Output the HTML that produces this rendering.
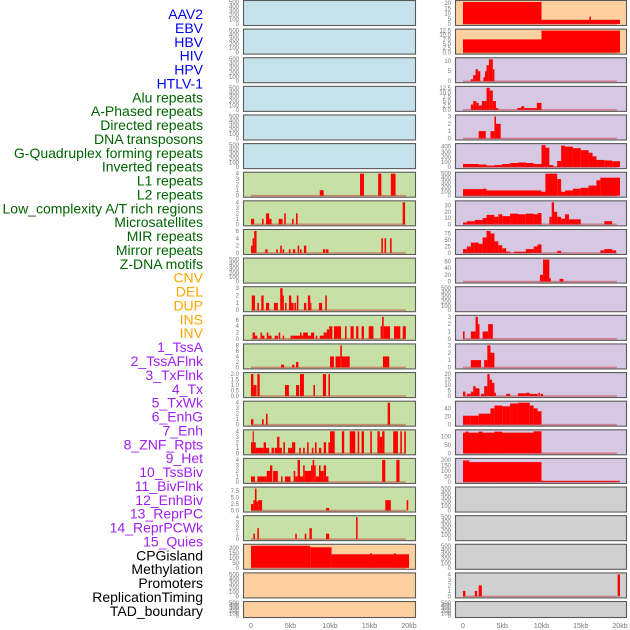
<!DOCTYPE html>
<html><head><meta charset="utf-8"><style>
body{margin:0;background:#fff;width:630px;height:630px;overflow:hidden}
svg{display:block}
</style></head><body>
<svg id="chart" width="630" height="630"></svg>
<script>
const labelNames=["AAV2","EBV","HBV","HIV","HPV","HTLV-1","Alu repeats","A-Phased repeats","Directed repeats","DNA transposons","G-Quadruplex forming repeats","Inverted repeats","L1 repeats","L2 repeats","Low_complexity A/T rich regions","Microsatellites","MIR repeats","Mirror repeats","Z-DNA motifs","CNV","DEL","DUP","INS","INV","1_TssA","2_TssAFlnk","3_TxFlnk","4_Tx","5_TxWk","6_EnhG","7_Enh","8_ZNF_Rpts","9_Het","10_TssBiv","11_BivFlnk","12_EnhBiv","13_ReprPC","14_ReprPCWk","15_Quies","CPGisland","Methylation","Promoters","ReplicationTiming","TAD_boundary"];
const labelColors=["#0000ee","#0000ee","#0000ee","#0000ee","#0000ee","#0000ee","#006400","#006400","#006400","#006400","#006400","#006400","#006400","#006400","#006400","#006400","#006400","#006400","#006400","#ffa500","#ffa500","#ffa500","#ffa500","#ffa500","#a020f0","#a020f0","#a020f0","#a020f0","#a020f0","#a020f0","#a020f0","#a020f0","#a020f0","#a020f0","#a020f0","#a020f0","#a020f0","#a020f0","#a020f0","#000","#000","#000","#000","#000"];
const xTickLabels=["0","5kb","10kb","15kb","20kb"];
const xTickValues=[0,5,10,15,20];
const E=[0,100,200,300,400,500];
const col1Bg=["b","b","b","b","b","b","g","g","g","g","g","g","g","g","g","g","g","g","g","o","o","o"];
const col1Ticks=[E,E,E,E,E,E,[0,1,2,3,4],[0,1,2,3,4],[0,2,4,6],E,[0,1,2,3],[0,2,4,6],[0,2,4,6,8],[0,0.5,1,1.5,2],[0,1,2,3,4],[0,1,2,3,4],[0,1,2,3,4],[0,2.5,5,7.5],[0,1,2,3,4],[0,50,100,150,200],E,E];
const col1Data=[[],[],[],[],[],[],
[[8.7,9.2,1],[13.8,14.3,4],[16.1,16.5,4],[17.7,18.3,4]],
[[0,0.4,1],[1.4,1.6,1],[1.9,2.3,2],[2.3,2.6,1],[3.5,4,1],[4.2,4.4,2],[5.2,5.4,1],[5.7,5.9,2],[19.2,19.5,4]],
[[0,0.2,2],[0.2,0.4,4],[0.4,0.7,6],[1.8,2.1,1],[3.2,3.4,1],[3.7,3.9,2],[4,4.2,1],[4.8,5,1],[5.3,5.6,1],[5.9,6.1,2],[6.2,6.4,1],[6.7,7,2],[9.1,9.4,1],[9.5,9.8,1],[16.5,16.7,4],[16.9,17.1,4],[17.6,17.8,4]],
[],
[[0.1,0.5,2],[0.8,1,1],[1.3,1.6,2],[1.9,2.3,1],[2.9,3.4,1],[3.7,4,3],[4,4.1,2],[4.3,4.5,1],[4.8,5.1,2],[5.1,5.4,1],[5.5,5.7,1],[5.8,6,2],[6.7,7,1],[7.2,7.5,2],[7.5,7.6,1],[8.6,9,1],[9.4,9.6,2]],
[[0.2,0.5,2],[0.5,0.8,1],[1.2,1.4,2],[1.4,1.7,1],[2,2.2,2],[2.2,2.6,1],[3,3.4,1],[3.5,3.7,2],[4,4.2,1],[5,5.3,1],[5.3,6.2,1],[6.2,6.4,2],[6.4,6.6,1],[6.6,7.2,2],[7.2,7.6,1],[7.6,8,2],[8.2,8.4,1],[8.7,9.2,1],[9.2,9.6,2],[9.6,9.9,3],[9.9,10.3,4],[10.5,11.4,4],[11.9,12.1,4],[12.6,13,4],[13.3,13.6,4],[14,14.3,4],[14.9,15.5,4],[16.4,16.6,4],[16.6,16.8,7],[16.8,17.6,4],[18.1,18.9,4],[19.2,19.6,4]],
[[3.8,4.2,1],[5.2,5.5,1],[5.7,6,2],[10,10.5,4],[10.7,11.3,4],[11.3,11.5,8],[11.5,12.5,4],[16.7,17.5,4]],
[[0,0.3,2],[0.3,0.7,1],[0.8,1.1,2],[4.3,4.8,1],[5.7,6.1,1],[6.2,6.7,2],[7.9,8.1,1],[9.1,9.5,2],[9.8,10,2]],
[[0,0.3,1],[1.4,1.6,1],[1.9,2.1,2],[17.3,17.6,4]],
[[0,0.2,2],[0.2,0.3,4],[0.3,0.6,2],[0.6,1.6,1],[1.6,1.9,2],[1.9,2.3,1],[2.6,2.9,1],[3,3.3,1],[3.3,3.6,3],[3.6,3.9,1],[4.1,4.3,2],[4.7,5.2,1],[5.2,5.6,2],[6.1,6.3,1],[6.6,6.8,1],[7.1,7.3,2],[7.7,7.9,1],[8.1,8.3,2],[8.6,8.9,1],[9.2,9.5,2],[9.8,10,2],[10,10.6,4],[11.5,11.8,4],[12.5,13.2,4],[13.5,13.7,4],[14,14.3,4],[15.1,15.3,4],[16,16.3,4],[16.3,16.6,3],[16.6,16.9,4],[18,18.6,4],[18.9,19.1,4],[19.4,19.6,4]],
[[0,0.5,1],[0.8,1.7,1],[1.7,2,1],[2,2.4,2],[2.4,2.7,3],[2.8,3.4,2],[3.8,4,1],[4.3,5,1],[5.4,5.6,2],[5.6,5.9,1],[5.9,6.2,4],[6.2,6.6,1],[6.6,6.8,3],[6.8,7.6,2],[7.6,7.8,3],[7.8,8,4],[8,8.2,3],[8.2,8.6,1],[8.6,8.8,3],[8.8,9.2,2],[9.2,9.5,3],[9.5,9.8,1],[16.6,17,4],[18.4,18.8,4]],
[[0,0.3,2.5],[0.3,0.5,4],[0.5,0.7,8.5],[0.7,0.9,3.5],[0.9,1.4,4],[9.5,9.9,1],[17,17.7,4],[19.7,19.9,4]],
[[0.3,0.5,1],[0.8,1,2],[5.6,5.8,1],[6.8,7,1],[7.4,7.7,2],[9.5,9.9,1],[13.3,13.5,4]],
[[0,7.5,220],[7.5,10.2,205],[10.2,20,135],[15.1,15.3,145],[18.1,18.3,145]],
[],[]];
const col2Bg=["o","o","p","p","p","p","p","p","p","p","p","p","p","p","p","p","p","r","r","r","r","r"];
const col2Ticks=[[0,5,10,15,20],[0,2.5,5,7.5,10,12.5],[0,5,10],[0,2.5,5,7.5,10,12.5],[0,1,2,3],[0,100,200,300,400],[0,100,200,300,400,500],[0,10,20,30],[0,25,50,75],[0,20,40,60],E,[0,1,2,3],[0,1,2,3],[0,5,10,15,20],[0,20,40],[0,50,100],[0,50,100,150,200],E,E,E,[0,1,2,3,4],E];
const col2Data=[
[[0,10,21],[10,20,4],[16.1,16.3,7]],
[[0,10,7.5],[10,20,12.5]],
[[1,1.3,1],[1.3,1.6,3],[1.6,1.9,6],[1.9,2.2,5],[2.6,2.8,2],[2.8,3,5],[3,3.3,8],[3.3,3.8,11],[3.8,4,6]],
[[1,1.3,3],[1.3,1.7,5],[1.7,2,4],[2,2.4,2.5],[2.4,3,5],[3,3.4,12.5],[3.4,3.8,11],[3.8,4.2,5],[4.2,4.5,1],[6.9,7.4,1],[7.4,7.8,2],[7.8,9.4,1],[9.4,10,4]],
[[2,2.9,1],[3.5,4,1],[4,4.2,3],[4.2,4.8,2]],
[[0,2,60],[2,3,50],[3,4,30],[4,5,40],[5,6,60],[6,7,80],[7,8,90],[8,9,80],[9,10,60],[10,10.5,430],[10.5,11,380],[11,11.5,40],[11.5,12,10],[12,12.5,120],[12.5,13,420],[13,14,400],[14,15,370],[15,16,330],[16,16.5,280],[16.5,17,210],[17,18,140],[18,19,130],[19,20,115]],
[[0,2.5,150],[2.5,3,160],[3,10,120],[10,10.5,90],[10.5,12,500],[12,12.5,380],[12.5,13,90],[13,14,120],[14,15,160],[15,16,180],[16,17,230],[17,17.5,350],[17.5,20,410]],
[[0,0.5,3],[0.5,1.5,5],[1.5,2.5,7],[2.5,3,10],[3,4,15],[4,4.5,12],[4.5,5,16],[5,6,13],[6,7,17],[7,8,16],[8,9,17],[9,9.5,16],[9.5,10,18],[11,11.3,12],[11.3,11.6,35],[11.6,12,20],[12,12.5,12],[12.5,13,9],[13,13.5,16],[13.5,15,8],[18,19,5]],
[[0,0.5,15],[0.5,1,25],[1,1.5,40],[1.5,2,40],[2,2.5,35],[2.5,3,60],[3,3.5,85],[3.5,4,75],[4,4.5,45],[4.5,5,30],[5,5.5,18],[5.5,6,5],[6.5,8,5],[8,9,15],[9,9.5,25],[9.5,10,33],[12,12.5,8],[17.5,18,10],[18,19,15],[19,19.5,10]],
[[9.8,10.2,20],[10.2,11,65],[11,11.2,10],[12.3,12.8,8]],
[],
[[0,0.2,1],[1,1.6,1],[1.6,1.9,3],[1.9,2.1,2],[2.5,3.2,1],[3.2,3.8,2]],
[[1,2.3,1],[2.7,3.1,1],[3.1,3.5,3],[3.5,4,2]],
[[0,0.3,4],[0.5,1,2],[1,1.3,4],[1.3,1.6,9],[1.6,2.1,7],[2.3,2.7,2],[2.7,3.1,9],[3.1,3.4,20],[3.4,3.7,15],[3.7,4,12],[4,4.2,3],[5.5,6,2],[7,8,2.5],[8,8.5,3],[8.5,9,2],[9,9.5,2],[9.6,9.8,3],[9.9,10.2,2]],
[[0,1,22],[1,2,22],[2,3.5,27],[3.5,4,40],[4,5,47],[5,6,45],[6,7,52],[7,8.5,54],[8.5,9,47],[9,9.5,40],[9.5,10,33]],
[[0,10,122],[0.3,0.7,128],[2,2.5,128],[4,5,128],[9,10,130]],
[[0,10,180],[0,0.8,195],[3,4,160],[10,20,10]],
[],[],[],
[[0,0.3,1],[1.5,1.8,1],[2,2.4,2],[19.7,20,4]],
[]];
</script>
<script>
const NS="http://www.w3.org/2000/svg";
const svg=document.getElementById('chart');
const BG={b:"#c6e3ec",g:"#c6e0a6",o:"#ffd09f",p:"#d6c7e2",r:"#d0d0d0"};
function mk(tag,attrs,parent){const e=document.createElementNS(NS,tag);for(const k in attrs)e.setAttribute(k,attrs[k]);(parent||svg).appendChild(e);return e;}
labelNames.forEach((n,i)=>{
  const t=mk('text',{x:203,y:19+i*13.88,'text-anchor':'end','font-family':'Liberation Sans, sans-serif','font-size':'14',fill:labelColors[i]});
  t.textContent=n;
  
  
});
const cols=[{x0:243,x1:416,k0:251,k20:409,bg:col1Bg,ticks:col1Ticks,data:col1Data},{x0:455,x1:627,k0:463,k20:620,bg:col2Bg,ticks:col2Ticks,data:col2Data}];
function rowTop(i){return i*28.62+0.5;}
cols.forEach((c,ci)=>{
  const xs=kb=>c.k0+(c.k20-c.k0)*kb/20;
  for(let i=0;i<22;i++){
    const top=rowTop(i), h=(i==21?16:25), bot=top+h;
    const g=mk('g',{});
    
    
    mk('rect',{x:c.x0,y:top,width:c.x1-c.x0,height:h,fill:BG[c.bg[i]]},g);
    const segs=c.data[i], ticks=c.ticks[i];
    const dmax=Math.max(ticks[ticks.length-1],...segs.map(s=>s[2]));
    const y0=bot-1.5, ytop=top+1.5;
    const ys=v=>y0-(y0-ytop)*v/dmax;
    if(segs.length){
      segs.forEach(s=>{
        const r=mk('rect',{x:xs(s[0]),y:ys(s[2]),width:Math.max(1.2,xs(s[1])-xs(s[0])),height:y0-ys(s[2]),fill:"#ff0000"},g);
        
        
      });
      mk('line',{x1:xs(0),x2:xs(19.6),y1:y0,y2:y0,stroke:"rgba(200,40,40,0.45)","stroke-width":1.6},g);
    }
    mk('rect',{x:c.x0+0.5,y:top,width:c.x1-c.x0-1,height:h,fill:"none",stroke:"#5a5a5a","stroke-width":1.1},g);
    ticks.forEach(v=>{
      const t=mk('text',{x:c.x0-4,y:ys(v)+2,'text-anchor':'end','font-family':'Liberation Sans, sans-serif','font-size':'6',fill:"#777"},g);
      t.textContent=String(v%1?v.toFixed(1):(ticks.some(q=>q%1)?v.toFixed(1):v));
      
      
    });
  }
  xTickValues.forEach((v,j)=>{
    const t=mk('text',{x:xs(v),y:628,'text-anchor':'middle','font-family':'Liberation Sans, sans-serif','font-size':'7',fill:"#777"});
    t.textContent=xTickLabels[j];
    
    
  });
});
</script>
</body></html>
